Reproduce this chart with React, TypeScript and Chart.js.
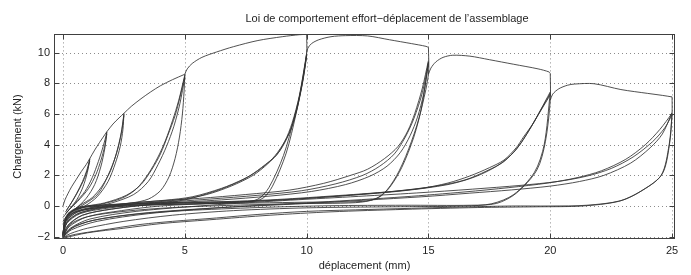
import React, { useEffect, useRef } from 'react';
import { Chart, registerables } from 'chart.js';

Chart.register(...registerables);

type Pt = [number, number];

const titleText = 'Loi de comportement effort−déplacement de l’assemblage';
const xLabel = 'déplacement (mm)';
const yLabel = 'Chargement (kN)';
const xTicks = [0, 5, 10, 15, 20, 25];
const xTickLabels = ['0', '5', '10', '15', '20', '25'];
const yTicks = [-2, 0, 2, 4, 6, 8, 10];
const yTickLabels = ['−2', '0', '2', '4', '6', '8', '10'];

// envelope (first loading) segments
const env1: Pt[] = [[0, 0], [0.08, 0.4], [0.2, 0.8], [0.35, 1.25], [0.55, 1.75], [0.75, 2.25], [0.95, 2.7], [1.1, 3.1]];
const env2: Pt[] = [[1.1, 3.1], [1.3, 3.65], [1.5, 4.15], [1.8, 4.85]];
const env3: Pt[] = [[1.8, 4.85], [2.05, 5.35], [2.3, 5.75], [2.5, 6.05]];
const env4: Pt[] = [[2.5, 6.05], [2.8, 6.5], [3.2, 7.0], [3.6, 7.45], [4.0, 7.85], [4.5, 8.25], [5.0, 8.6]];
const env5: Pt[] = [[5.0, 8.6], [5.1, 8.95], [5.3, 9.3], [5.7, 9.7], [6.3, 10.05], [7.0, 10.4], [8.0, 10.8], [9.0, 11.05], [9.7, 11.18], [10.0, 11.2]];
const env6: Pt[] = [[10.0, 10.0], [10.05, 10.3], [10.2, 10.6], [10.5, 10.85], [11.0, 11.05], [11.6, 11.12], [12.5, 11.1], [13.4, 10.85], [14.3, 10.6], [14.9, 10.42], [15.0, 10.35]];
const env7: Pt[] = [[15.0, 8.6], [15.1, 9.0], [15.3, 9.4], [15.6, 9.7], [16.0, 9.84], [16.7, 9.78], [17.5, 9.55], [18.5, 9.25], [19.5, 8.95], [19.95, 8.75], [20.0, 8.65]];
const env8: Pt[] = [[20.0, 6.9], [20.1, 7.3], [20.35, 7.65], [20.7, 7.88], [21.0, 7.96], [21.8, 7.98], [22.9, 7.6], [24.0, 7.35], [24.6, 7.22], [25.0, 7.12]];

// small cycles
const rel1a: Pt[] = [[0.1, -0.4], [0.3, 0.1], [0.55, 0.8], [0.8, 1.6], [0.97, 2.3], [1.1, 3.05]];
const rel1b: Pt[] = [[0.15, -0.25], [0.4, 0.35], [0.65, 1.05], [0.88, 1.8], [1.02, 2.45], [1.1, 2.95]];
const unl1: Pt[] = [[1.1, 3.1], [1.0, 2.2], [0.82, 1.25], [0.58, 0.45], [0.32, -0.1], [0.12, -0.5], [0.0, -0.75]];
const rel2a: Pt[] = [[0.1, -0.5], [0.5, 0.2], [0.9, 0.95], [1.2, 1.85], [1.45, 2.9], [1.65, 3.9], [1.8, 4.8]];
const rel2b: Pt[] = [[0.15, -0.4], [0.6, 0.3], [1.05, 1.15], [1.35, 2.05], [1.56, 3.0], [1.71, 3.9], [1.8, 4.7]];
const unl2: Pt[] = [[1.8, 4.85], [1.72, 3.8], [1.55, 2.55], [1.3, 1.4], [0.95, 0.5], [0.5, -0.2], [0.15, -0.65], [0.0, -1.0]];
const rel3a: Pt[] = [[0.15, -0.6], [0.7, 0.05], [1.2, 0.55], [1.6, 1.3], [1.95, 2.3], [2.2, 3.5], [2.38, 4.7], [2.5, 6.0]];
const rel3b: Pt[] = [[0.2, -0.5], [0.9, 0.15], [1.44, 0.8], [1.85, 2.0], [2.19, 3.4], [2.4, 4.8], [2.5, 5.9]];
const unl3: Pt[] = [[2.5, 6.05], [2.46, 5.0], [2.35, 3.9], [2.15, 2.8], [1.85, 1.6], [1.4, 0.6], [0.9, 0.0], [0.4, -0.4], [0.1, -0.8], [0.0, -1.2]];

// 5 mm cycles
const rel5a: Pt[] = [[0.0, -1.85], [0.08, -1.0], [0.35, -0.4], [0.9, -0.08], [1.45, 0.07], [2.4, 0.5], [3.0, 1.1], [3.5, 2.1], [3.9, 3.2], [4.21, 4.3], [4.5, 5.6], [4.75, 6.9], [5.0, 8.55]];
const rel5b: Pt[] = [[0.0, -1.75], [0.1, -0.9], [0.4, -0.3], [1.0, 0.0], [1.7, 0.2], [2.6, 0.7], [3.2, 1.4], [3.65, 2.4], [4.0, 3.4], [4.3, 4.6], [4.6, 5.9], [4.8, 7.1], [5.0, 8.45]];
const rel5c: Pt[] = [[0.0, -1.9], [0.12, -1.1], [0.5, -0.45], [1.2, -0.1], [2.0, 0.2], [2.9, 0.75], [3.5, 1.6], [3.9, 2.7], [4.25, 3.9], [4.55, 5.2], [4.8, 6.7], [5.0, 8.4]];
const unl5: Pt[] = [[5.0, 8.6], [4.97, 7.5], [4.9, 6.0], [4.78, 4.5], [4.6, 3.1], [4.35, 1.9], [4.0, 1.0], [3.5, 0.45], [2.8, 0.2], [1.8, 0.08], [0.9, -0.05], [0.3, -0.4], [0.06, -1.1], [0.0, -1.9]];

// 10 mm cycles
const rel10a: Pt[] = [[0.0, -1.9], [0.1, -1.0], [0.5, -0.4], [1.5, -0.1], [3.0, 0.15], [4.0, 0.25], [5.0, 0.4], [6.3, 1.0], [7.1, 1.5], [7.65, 1.95], [8.3, 2.7], [8.75, 3.3], [9.1, 4.2], [9.4, 5.4], [9.7, 7.2], [10.0, 9.95]];
const rel10b: Pt[] = [[0.0, -1.8], [0.12, -0.9], [0.6, -0.3], [1.6, 0.0], [3.0, 0.22], [4.2, 0.38], [5.3, 0.6], [6.5, 1.15], [7.4, 1.75], [8.0, 2.3], [8.6, 3.1], [9.0, 3.95], [9.35, 5.0], [9.65, 6.7], [10.0, 9.85]];
const rel10c: Pt[] = [[0.0, -1.95], [0.15, -1.1], [0.7, -0.45], [2.0, -0.05], [3.4, 0.2], [4.8, 0.42], [5.9, 0.75], [6.9, 1.3], [7.8, 2.0], [8.4, 2.75], [8.9, 3.6], [9.3, 4.8], [9.6, 6.3], [9.85, 8.2], [10.0, 9.75]];
const unl10a: Pt[] = [[10.0, 11.2], [10.0, 10.0], [9.85, 8.3], [9.57, 6.05], [9.16, 3.45], [8.6, 1.3], [8.2, 0.5], [7.6, 0.28], [6.0, 0.22], [4.0, 0.17], [2.0, 0.08], [0.7, -0.05], [0.2, -0.5], [0.05, -1.2], [0.0, -1.95]];
const unl10b: Pt[] = [[10.0, 9.9], [9.82, 8.0], [9.5, 5.8], [9.05, 3.3], [8.45, 1.2], [8.0, 0.45], [7.3, 0.25], [5.5, 0.15], [3.5, 0.08], [1.8, 0.0], [0.6, -0.15], [0.15, -0.7], [0.03, -1.4], [0.0, -2.0]];

// 15 mm cycles
const rel15a: Pt[] = [[0.0, -1.9], [0.12, -1.0], [0.6, -0.4], [1.6, -0.05], [3.2, 0.25], [5.6, 0.5], [7.5, 0.75], [9.3, 1.04], [10.7, 1.48], [11.8, 2.0], [12.5, 2.4], [13.2, 3.1], [13.76, 3.9], [14.15, 4.9], [14.44, 6.05], [14.75, 7.7], [15.0, 9.5]];
const rel15b: Pt[] = [[0.0, -1.95], [0.15, -1.15], [0.7, -0.5], [1.8, -0.15], [3.5, 0.15], [6.0, 0.45], [8.0, 0.7], [9.8, 1.0], [11.2, 1.45], [12.3, 2.0], [13.0, 2.6], [13.6, 3.4], [14.05, 4.5], [14.4, 5.7], [14.75, 7.4], [15.0, 9.35]];
const rel15c: Pt[] = [[0.0, -2.0], [0.2, -1.3], [0.8, -0.6], [2.0, -0.2], [4.0, 0.15], [6.5, 0.4], [8.5, 0.65], [10.2, 0.95], [11.6, 1.4], [12.6, 1.95], [13.3, 2.6], [13.85, 3.5], [14.25, 4.6], [14.55, 5.8], [14.8, 7.3], [15.0, 9.25]];
const unl15a: Pt[] = [[15.0, 10.35], [15.0, 8.6], [14.75, 6.6], [14.4, 4.5], [13.9, 2.5], [13.4, 1.2], [12.95, 0.55], [12.3, 0.3], [10.0, 0.25], [8.0, 0.2], [5.0, 0.12], [3.0, 0.02], [1.2, -0.15], [0.4, -0.45], [0.1, -1.0], [0.0, -1.9]];
const unl15b: Pt[] = [[15.0, 9.4], [14.7, 6.3], [14.3, 4.2], [13.8, 2.3], [13.3, 1.05], [12.8, 0.45], [12.0, 0.22], [9.5, 0.15], [7.0, 0.05], [4.5, -0.1], [2.5, -0.35], [1.0, -0.7], [0.3, -1.2], [0.0, -2.0]];

// 20 mm cycles
const rel20a: Pt[] = [[0.0, -2.0], [0.15, -1.1], [0.6, -0.5], [1.6, -0.1], [3.2, 0.17], [5.5, 0.25], [7.8, 0.32], [10.0, 0.5], [12.5, 0.8], [14.7, 1.15], [15.8, 1.5], [16.7, 1.96], [17.5, 2.5], [18.1, 3.0], [18.6, 3.8], [18.9, 4.5], [19.3, 5.4], [19.6, 6.26], [20.0, 7.45]];
const rel20b: Pt[] = [[0.0, -2.0], [0.2, -1.25], [0.8, -0.6], [2.0, -0.2], [3.6, 0.1], [6.0, 0.25], [8.5, 0.4], [11.0, 0.65], [13.5, 0.95], [15.3, 1.3], [16.5, 1.7], [17.4, 2.3], [18.1, 2.9], [18.7, 3.9], [19.15, 5.0], [19.55, 6.1], [20.0, 7.35]];
const rel20c: Pt[] = [[0.0, -2.05], [0.25, -1.35], [1.0, -0.7], [2.4, -0.3], [4.0, 0.0], [6.5, 0.2], [9.0, 0.4], [11.8, 0.7], [14.0, 1.0], [15.8, 1.4], [16.9, 1.9], [17.8, 2.6], [18.5, 3.5], [19.0, 4.6], [19.45, 5.8], [20.0, 7.25]];
const unl20a: Pt[] = [[20.0, 8.65], [20.0, 6.9], [19.8, 4.2], [19.45, 2.35], [18.6, 0.83], [17.8, 0.17], [16.75, 0.05], [14.0, 0.05], [11.0, 0.02], [8.0, -0.1], [5.0, -0.3], [3.2, -0.5], [1.5, -0.85], [0.5, -1.3], [0.0, -2.0]];
const unl20b: Pt[] = [[20.0, 7.4], [19.75, 4.0], [19.35, 2.2], [18.5, 0.75], [17.6, 0.15], [16.5, 0.0], [13.5, -0.05], [10.0, -0.12], [7.0, -0.3], [4.5, -0.6], [2.5, -1.0], [1.0, -1.45], [0.3, -1.8], [0.0, -2.05]];

// 25 mm cycles
const rel25a: Pt[] = [[0.0, -2.0], [0.3, -1.5], [1.2, -0.95], [3.2, -0.48], [6.0, -0.15], [10.0, 0.17], [14.7, 0.6], [16.7, 0.84], [18.4, 1.05], [20.0, 1.3], [21.2, 1.6], [22.2, 2.0], [23.3, 2.8], [24.1, 3.8], [24.6, 4.7], [25.0, 6.1]];
const rel25b: Pt[] = [[0.0, -2.05], [0.35, -1.55], [1.4, -1.0], [3.5, -0.5], [6.5, -0.1], [10.5, 0.25], [14.0, 0.6], [16.5, 0.92], [18.3, 1.2], [19.9, 1.5], [21.1, 1.85], [22.1, 2.3], [23.1, 3.05], [23.9, 4.0], [24.5, 5.0], [25.0, 6.05]];
const rel25c: Pt[] = [[0.0, -2.05], [0.3, -1.45], [1.1, -0.85], [3.0, -0.35], [6.0, 0.05], [9.0, 0.35], [11.8, 0.6], [14.5, 0.85], [16.8, 1.1], [18.8, 1.35], [20.3, 1.6], [21.5, 1.95], [22.5, 2.45], [23.4, 3.2], [24.2, 4.2], [24.7, 5.1], [25.0, 5.95]];
const unl25a: Pt[] = [[25.0, 7.12], [25.0, 6.1], [24.9, 4.1], [24.6, 2.1], [23.8, 1.04], [22.9, 0.35], [21.5, 0.05], [20.0, 0.0], [18.4, 0.0], [16.0, -0.08], [14.3, -0.15], [12.0, -0.25], [10.0, -0.35], [8.0, -0.55], [6.3, -0.78], [4.5, -1.0], [3.2, -1.2], [1.5, -1.6], [0.5, -1.85], [0.0, -2.05]];
const unl25b: Pt[] = [[25.0, 6.0], [24.88, 4.0], [24.55, 2.0], [23.7, 0.95], [22.8, 0.3], [21.3, 0.0], [19.5, -0.05], [17.0, -0.1], [14.0, -0.22], [11.0, -0.38], [8.5, -0.6], [6.0, -0.9], [4.0, -1.15], [2.5, -1.45], [1.0, -1.75], [0.0, -2.1]];

const curves: Pt[][] = [
  env1, env2, env3, env4, env5, env6, env7, env8,
  rel1a, rel1b, unl1, rel2a, rel2b, unl2, rel3a, rel3b, unl3,
  rel5a, rel5b, rel5c, unl5,
  rel10a, rel10b, rel10c, unl10a, unl10b,
  rel15a, rel15b, rel15c, unl15a, unl15b,
  rel20a, rel20b, rel20c, unl20a, unl20b,
  rel25a, rel25b, rel25c, unl25a, unl25b,
];

const FONT = '"Liberation Sans", Arial, Helvetica, sans-serif';
const FS = 11;
const TEXT = '#1e1e1e';

const framePlugin = {
  id: 'matlabFrame',
  beforeDatasetsDraw(chart: any) {
    const { ctx, chartArea: a, scales } = chart;
    const x = scales.x;
    const y = scales.y;
    ctx.save();
    ctx.strokeStyle = '#8c8c8c';
    ctx.lineWidth = 1;
    ctx.setLineDash([1, 3]);
    for (const v of xTicks) {
      const px = Math.round(x.getPixelForValue(v)) + 0.5;
      ctx.beginPath();
      ctx.moveTo(px, a.top);
      ctx.lineTo(px, a.bottom);
      ctx.stroke();
    }
    for (const v of yTicks) {
      const py = Math.round(y.getPixelForValue(v)) + 0.5;
      ctx.beginPath();
      ctx.moveTo(a.left, py);
      ctx.lineTo(a.right, py);
      ctx.stroke();
    }
    ctx.restore();
  },
  afterDatasetsDraw(chart: any) {
    const { ctx, chartArea: a, scales } = chart;
    const x = scales.x;
    const y = scales.y;
    const L = Math.round(a.left) + 0.5;
    const R = Math.round(a.right) - 0.5;
    const T = Math.round(a.top) + 0.5;
    const B = Math.round(a.bottom) - 0.5;
    ctx.save();
    ctx.strokeStyle = '#404040';
    ctx.lineWidth = 1;
    ctx.setLineDash([]);
    ctx.strokeRect(L, T, R - L, B - T);
    const tl = 5;
    ctx.beginPath();
    for (const v of xTicks) {
      const px = Math.round(x.getPixelForValue(v)) + 0.5;
      ctx.moveTo(px, B);
      ctx.lineTo(px, B - tl);
      ctx.moveTo(px, T);
      ctx.lineTo(px, T + tl);
    }
    for (const v of yTicks) {
      const py = Math.round(y.getPixelForValue(v)) + 0.5;
      ctx.moveTo(L, py);
      ctx.lineTo(L + tl, py);
      ctx.moveTo(R, py);
      ctx.lineTo(R - tl, py);
    }
    ctx.stroke();
    // title
    ctx.fillStyle = TEXT;
    ctx.font = `${FS}px ${FONT}`;
    ctx.textAlign = 'center';
    ctx.textBaseline = 'middle';
    ctx.fillText(titleText, 387, 19);
    ctx.restore();
  },
};

export default function App() {
  const ref = useRef<HTMLCanvasElement | null>(null);
  useEffect(() => {
    if (!ref.current) return;
    const chart = new Chart(ref.current, {
      type: 'scatter',
      data: {
        datasets: curves.map((c) => ({
          data: c.map(([px, py]) => ({ x: px, y: py })),
          showLine: true,
          borderColor: 'rgba(50,50,50,0.85)',
          borderWidth: 1,
          pointRadius: 0,
          pointHoverRadius: 0,
          tension: 0.3,
          fill: false,
        })),
      },
      options: {
        responsive: false,
        animation: false,
        devicePixelRatio: 1,
        layout: { padding: { left: 0, right: 16, top: 34.4, bottom: 0 } },
        plugins: {
          legend: { display: false },
          tooltip: { enabled: false },
          title: { display: false },
        },
        scales: {
          x: {
            type: 'linear',
            min: -0.37,
            max: 25.12,
            afterBuildTicks: (s: any) => {
              s.ticks = xTicks.map((v) => ({ value: v }));
            },
            afterFit: (s: any) => {
              s.height = 36.5;
            },
            grid: { display: false, drawTicks: false },
            border: { display: false },
            ticks: {
              padding: 6,
              autoSkip: false,
              maxRotation: 0,
              color: TEXT,
              font: { family: FONT, size: FS },
              callback: (v: any) => xTickLabels[xTicks.indexOf(Number(v))] ?? '',
            },
            title: {
              display: true,
              text: xLabel,
              color: TEXT,
              font: { family: FONT, size: FS },
              padding: { top: 0, bottom: 2 },
            },
          },
          y: {
            type: 'linear',
            min: -2.12,
            max: 11.2,
            afterBuildTicks: (s: any) => {
              s.ticks = yTicks.map((v) => ({ value: v }));
            },
            afterFit: (s: any) => {
              s.width = 54;
            },
            grid: { display: false, drawTicks: false },
            border: { display: false },
            ticks: {
              padding: 4,
              autoSkip: false,
              color: TEXT,
              font: { family: FONT, size: FS },
              callback: (v: any) => yTickLabels[yTicks.indexOf(Number(v))] ?? '',
            },
            title: {
              display: true,
              text: yLabel,
              color: TEXT,
              font: { family: FONT, size: FS },
              padding: { top: 11, bottom: 0 },
            },
          },
        },
      },
      plugins: [framePlugin],
    } as any);
    return () => chart.destroy();
  }, []);
  return (
    <div style={{ position: 'fixed', left: 0, top: 0, width: 691, height: 275, background: '#fff' }}>
      <canvas ref={ref} width={691} height={275} style={{ display: 'block' }} />
    </div>
  );
}
